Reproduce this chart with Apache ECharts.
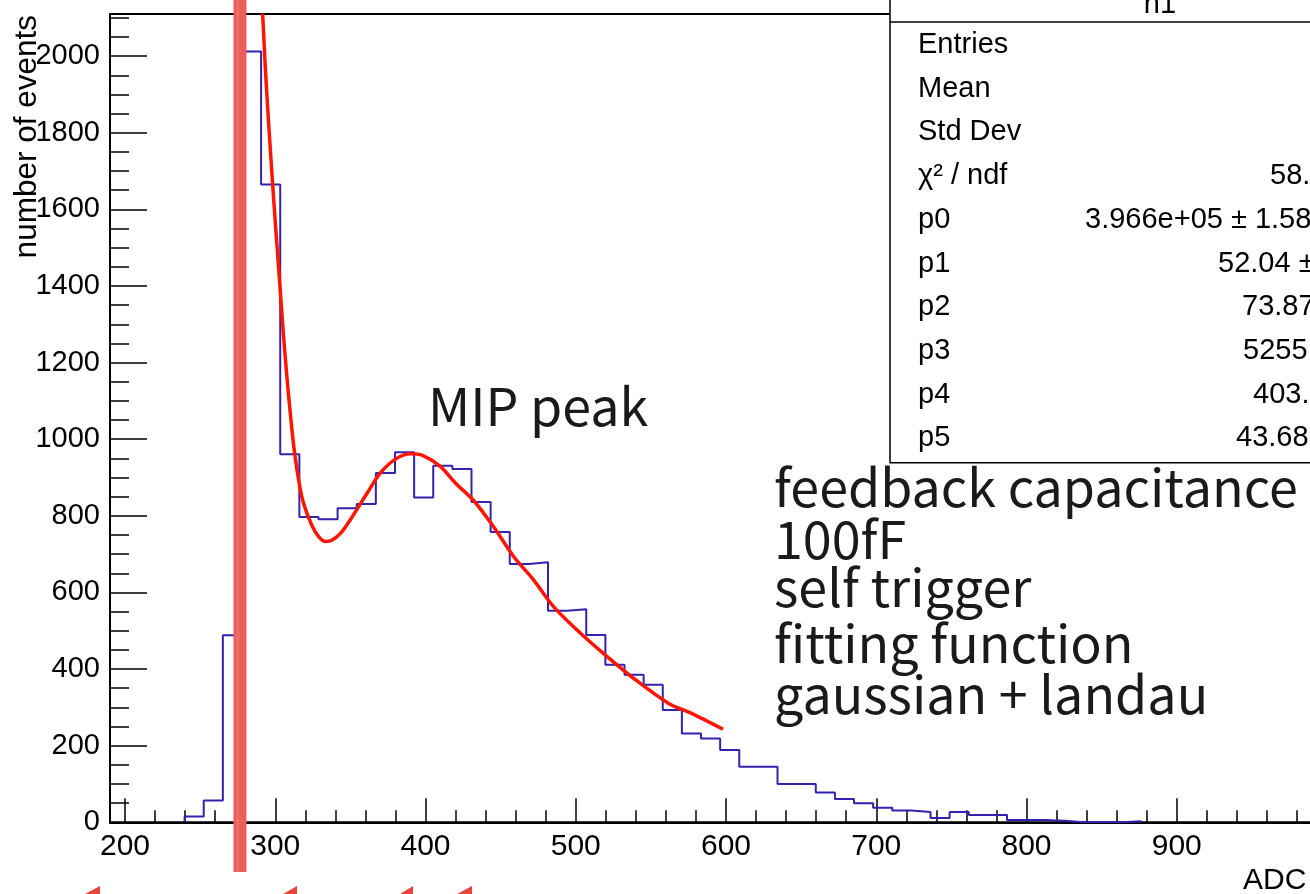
<!DOCTYPE html>
<html><head><meta charset="utf-8">
<script src="https://cdn.jsdelivr.net/npm/echarts@6/dist/echarts.min.js"></script>
<style>html,body{margin:0;padding:0;background:#fff;overflow:hidden;} #c{width:1310px;height:894px;}</style>
</head><body><div id="c"></div>
<script>
// ---------------- data ----------------
const binStart = 239.65;
const binWidth = 12.73;
const binCounts = [15,57,488,2012,1665,961,797,791,820,831,912,966,848,931,922,836,758,674,679,552,556,489,411,385,359,293,232,219,189,145,145,100,100,78,61,50,38,31,27,11,27,19,19,6,6,4,0,0,0,3];
const fitX = [291.6,293.3,295.5,298.0,300.5,303.3,305.5,307.8,310.0,312.2,315.5,318.8,324.4,329.0,333.5,338.0,344.0,350.0,361.1,370.0,380.0,390.0,398.0,409.8,420.0,432.0,445.2,458.6,471.9,485.2,503.0,520.7,538.4,561.5,576.7,598.0];
const fitY = [2111,1975,1830,1680,1540,1390,1270,1160,1068,985,895,833,775,745,733,737,757,790,859,912,948,962,958,929,885,840,772,694,633,563,494,433,376,311,285,243];
const xRange = [190, 1000];
const yRange = [0, 2110];
const xTickLabels = [200, 300, 400, 500, 600, 700, 800, 900];
const xMinorStep = 20;
const yMajor = 200, yMinor = 50;
const cutX = 276.5;
const cutYRange = [2148, -130];
const statLabels = ['Entries','Mean','Std Dev','\u03C7\u00B2 / ndf','p0','p1','p2','p3','p4','p5'];
const statValues = ['','','','58.','3.966e+05 \u00B1 1.58','52.04 \u00B1','73.87','5255','403.','43.68'];
const noteLines = ['feedback capacitance','100fF','self trigger','fitting function','gaussian + landau'];
const peakLabel = 'MIP peak';
const xTitle = 'ADC', yTitle = 'number of events', histName = 'h1';

// ---------------- build ----------------
const histPts = [[binStart, 0]];
binCounts.forEach((c, k) => histPts.push([binStart + k * binWidth, c]));
histPts.push([binStart + binCounts.length * binWidth, 0]);
const fitPts = fitX.map((x, i) => [x, fitY[i]]);
const xMinorTicks = [];
for (let v = xTickLabels[0]; v <= xRange[1]; v += xMinorStep) xMinorTicks.push(v);

const LAB = 'Liberation Sans, Arial, sans-serif';
const ANN = '"Noto Sans CJK JP", "Noto Sans", sans-serif';

const chart = echarts.init(document.getElementById('c'), null, {renderer: 'canvas'});
const axisBase = {type: 'value', min: xRange[0], max: xRange[1], splitLine: {show: false}};
chart.setOption({
  animation: false,
  backgroundColor: '#fff',
  grid: {left: 110, top: 14, width: 1217, height: 808.3, show: true, borderColor: '#000', borderWidth: 2, backgroundColor: 'transparent', outerBoundsMode: 'none', containLabel: false},
  xAxis: [
    Object.assign({}, axisBase, {
      position: 'bottom',
      axisLine: {show: true, lineStyle: {color: '#000', width: 2}},
      axisTick: {show: true, inside: true, length: 24, customValues: xTickLabels, lineStyle: {color: '#000', width: 1.5}},
      axisLabel: {show: true, color: '#000', fontSize: 30, fontFamily: LAB, margin: 9, customValues: xTickLabels,
        formatter: v => String(v)}
    }),
    Object.assign({}, axisBase, {
      position: 'bottom', offset: 0,
      axisLine: {show: false},
      axisTick: {show: true, inside: true, length: 12, customValues: xMinorTicks, lineStyle: {color: '#000', width: 1.5}},
      axisLabel: {show: false}
    })
  ],
  yAxis: [
    {type: 'value', min: yRange[0], max: yRange[1], interval: yMajor, position: 'left',
      splitLine: {show: false},
      axisLine: {show: true, lineStyle: {color: '#000', width: 2}},
      axisTick: {show: true, inside: true, length: 37, lineStyle: {color: '#000', width: 1.5}},
      axisLabel: {show: true, color: '#000', fontSize: 29, fontFamily: LAB, margin: 10,
        formatter: v => (v % yMajor === 0 ? String(v) : '')}
    },
    {type: 'value', min: yRange[0], max: yRange[1], interval: yMinor, position: 'left', offset: 0,
      splitLine: {show: false},
      axisLine: {show: false},
      axisTick: {show: true, inside: true, length: 19, lineStyle: {color: '#000', width: 1.5}},
      axisLabel: {show: false}
    }
  ],
  series: [
    {type: 'line', name: 'h1', xAxisIndex: 0, yAxisIndex: 0, data: histPts, step: 'end',
      showSymbol: false, symbol: 'none', lineStyle: {color: '#3322b0', width: 2}, z: 3},
    {type: 'line', name: 'fit', xAxisIndex: 0, yAxisIndex: 0, data: fitPts, smooth: 0.3,
      showSymbol: false, symbol: 'none', lineStyle: {color: '#ff1500', width: 3.5}, z: 4}
  ]
});

const p0 = chart.convertToPixel({xAxisIndex: 0, yAxisIndex: 0}, [cutX, cutYRange[0]]);
const p1 = chart.convertToPixel({xAxisIndex: 0, yAxisIndex: 0}, [cutX, cutYRange[1]]);

const g = [];
// stats box
g.push({type: 'rect', shape: {x: 890, y: -20, width: 520, height: 482.7}, style: {fill: '#fff', stroke: '#000', lineWidth: 1.5}, z: 50});
g.push({type: 'line', shape: {x1: 890, y1: 22, x2: 1310, y2: 22}, style: {stroke: '#000', lineWidth: 1.5}, z: 51});
g.push({type: 'text', x: 1160, y: 15 - 10, style: {text: histName, fill: '#000', fontSize: 29, fontFamily: LAB, align: 'center', verticalAlign: 'middle'}, z: 52});
const statValX = [0,0,0,1270,1085,1218,1242,1243,1253,1236];
statLabels.forEach((t, i) => {
  const base = 55 + 43.7 * i;
  g.push({type: 'text', x: 918, y: base - 10, style: {text: t, fill: '#000', fontSize: 29, fontFamily: LAB, align: 'left', verticalAlign: 'middle'}, z: 52});
  if (statValues[i]) g.push({type: 'text', x: statValX[i], y: base - 10, style: {text: statValues[i], fill: '#000', fontSize: 29, fontFamily: LAB, align: 'left', verticalAlign: 'middle'}, z: 52});
});
// axis titles
g.push({type: 'text', x: 1243, y: 881, style: {text: xTitle, fill: '#000', fontSize: 30, fontFamily: LAB, align: 'left', verticalAlign: 'middle'}, z: 52});
g.push({type: 'text', x: 27, y: 15, rotation: Math.PI / 2, style: {text: yTitle, fill: '#000', fontSize: 31.5, fontFamily: LAB, align: 'right', verticalAlign: 'middle'}, z: 52});
// annotations
g.push({type: 'text', x: 428, y: 427 - 21, style: {text: peakLabel, fill: '#1a1a1a', fontSize: 52, fontFamily: ANN, align: 'left', verticalAlign: 'middle'}, z: 52});
const noteBase = [508, 560, 608, 664, 715];
noteLines.forEach((t, i) => {
  g.push({type: 'text', x: 774, y: noteBase[i] - 21, style: {text: t, fill: '#1a1a1a', fontSize: 52, fontFamily: ANN, align: 'left', verticalAlign: 'middle'}, z: 52});
});
// hand-drawn cut line
g.push({type: 'line', shape: {x1: p0[0], y1: p0[1], x2: p1[0], y2: p1[1]}, style: {stroke: '#ec5e57', lineWidth: 13, lineCap: 'butt'}, z: 60});
g.push({type: 'line', shape: {x1: p0[0] - 2, y1: p0[1], x2: p1[0] - 2, y2: p1[1]}, style: {stroke: '#f07a74', lineWidth: 3, opacity: 0.6}, z: 61});
// partially visible hand-drawn red marks at the bottom edge
[[85, 100], [283, 297], [400, 413], [457, 472]].forEach(([a, b]) => {
  g.push({type: 'polygon', shape: {points: [[a, 894], [b, 886], [b, 894]]}, style: {fill: '#e8453c'}, z: 60});
});

chart.setOption({graphic: {elements: g}});
</script></body></html>
